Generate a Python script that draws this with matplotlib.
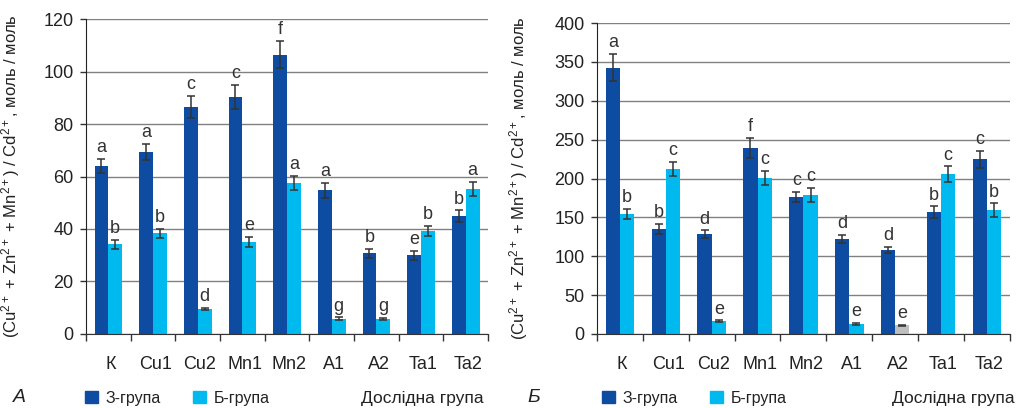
import matplotlib
matplotlib.use('Agg')
import matplotlib.pyplot as plt
from matplotlib.patches import Patch
import numpy as np

plt.rcParams['font.family'] = ['Liberation Sans', 'DejaVu Sans']
plt.rcParams['mathtext.default'] = 'regular'

groups = ['К', 'Cu1', 'Cu2', 'Mn1', 'Mn2', 'A1', 'A2', 'Ta1', 'Ta2']

# panel А
a_z = [64.0, 69.4, 86.5, 90.4, 106.4, 54.8, 30.8, 30.0, 44.9]
a_z_err = [2.8, 3.1, 4.2, 4.5, 5.2, 2.9, 1.7, 1.8, 2.2]
a_b = [34.1, 38.4, 9.4, 35.0, 57.5, 5.9, 5.6, 39.3, 55.2]
a_b_err = [1.8, 1.7, 0.4, 1.9, 2.8, 0.4, 0.4, 1.9, 2.8]
a_z_let = ['a', 'a', 'c', 'c', 'f', 'a', 'b', 'e', 'b']
a_b_let = ['b', 'b', 'd', 'e', 'a', 'g', 'g', 'b', 'a']

# panel Б
b_z = [342.4, 134.9, 128.5, 239.3, 176.2, 122.0, 107.8, 156.8, 224.7]
b_z_err = [17.6, 6.4, 4.7, 12.5, 6.9, 5.6, 3.9, 7.3, 11.2]
b_b = [154.2, 212.2, 16.3, 200.6, 178.7, 12.5, 11.2, 205.8, 159.4]
b_b_err = [6.4, 9.5, 1.3, 9.5, 9.5, 1.3, 0.9, 9.9, 8.6]
b_z_let = ['a', 'b', 'd', 'f', 'c', 'd', 'd', 'b', 'c']
b_b_let = ['b', 'c', 'e', 'c', 'c', 'e', 'e', 'c', 'b']

DARK = '#0d4ca0'
LIGHT = '#00b9ef'
GREY = '#bfbfbf'
ylab = '(Cu$^{2+}$ + Zn$^{2+}$ + Mn$^{2+}$) / Cd$^{2+}$, моль / моль'

fig = plt.figure(figsize=(10.17, 4.08), dpi=100)
axA = fig.add_axes([0.0846, 0.1814, 0.3953, 0.772])
axB = fig.add_axes([0.587, 0.1814, 0.406, 0.7622])


def panel(ax, z, ze, b, be, zl, bl, ymax, step, lcol, lab_x):
    x = np.arange(len(groups))
    w = 0.31
    ax.set_axisbelow(True)
    ax.yaxis.grid(True, color='#808080', lw=1)
    ekw = dict(ecolor='#333333', elinewidth=1.1, capsize=3, capthick=1.1)
    ax.bar(x - w / 2, z, w, color=DARK, yerr=ze, error_kw=ekw, zorder=2)
    ax.bar(x + w / 2, b, w, color=lcol, yerr=be, error_kw=ekw, zorder=2)
    for i in range(len(groups)):
        ax.annotate(zl[i], (x[i] - w / 2, z[i] + ze[i]), xytext=(0, 2),
                    textcoords='offset points', ha='center', va='bottom',
                    fontsize=13, color='#333333')
        ax.annotate(bl[i], (x[i] + w / 2, b[i] + be[i]), xytext=(0, 2),
                    textcoords='offset points', ha='center', va='bottom',
                    fontsize=13, color='#333333')
    ax.set_xlim(-0.5, len(groups) - 0.5)
    ax.set_ylim(0, ymax)
    ax.set_yticks(np.arange(0, ymax + 1, step))
    ax.set_xticks(np.arange(len(groups) + 1) - 0.5)
    ax.set_xticklabels([])
    ax.set_xticks(x + 0.05, minor=True)
    ax.set_xticklabels(groups, minor=True, fontsize=13, color='#222222')
    ax.tick_params(axis='x', which='major', direction='out', length=5, width=1, color='#333333')
    ax.tick_params(axis='x', which='minor', length=0, pad=16)
    ax.tick_params(axis='y', direction='out', length=4, width=1, color='#333333',
                   labelsize=13, labelcolor='#222222', pad=5)
    for s in ['top', 'right']:
        ax.spines[s].set_visible(False)
    ax.spines['left'].set_color('#222222')
    ax.spines['bottom'].set_color('#333333')
    ax.set_ylabel(ylab, fontsize=12, color='#222222')
    ax.yaxis.set_label_coords(lab_x, 0.5)


panel(axA, a_z, a_z_err, a_b, a_b_err, a_z_let, a_b_let, 120, 20, LIGHT, -0.16)
b_cols = [LIGHT] * len(groups)
b_cols[6] = GREY
panel(axB, b_z, b_z_err, b_b, b_b_err, b_z_let, b_b_let, 400, 50, b_cols, -0.162)

handles = [Patch(color=DARK, label='З-група'), Patch(color=LIGHT, label='Б-група')]
for lx, rx in [(0.0836, 0.476), (0.5919, 0.998)]:
    fig.legend(handles=handles, loc='center left', bbox_to_anchor=(lx, 1 - 398 / 408),
               ncol=2, frameon=False, fontsize=11.5, handlelength=0.8, handleheight=0.8,
               handletextpad=0.5, columnspacing=2.0, borderpad=0, borderaxespad=0,
               labelcolor='#222222')
    fig.text(rx, 1 - 398 / 408, 'Дослідна група', ha='right', va='center',
             fontsize=12.5, color='#222222')
fig.text(0.0130, 1 - 398 / 408, 'А', ha='left', va='center', fontsize=14,
         style='italic', color='#222222')
fig.text(0.5190, 1 - 398 / 408, 'Б', ha='left', va='center', fontsize=14,
         style='italic', color='#222222')

fig.savefig('out.png', dpi=100)
